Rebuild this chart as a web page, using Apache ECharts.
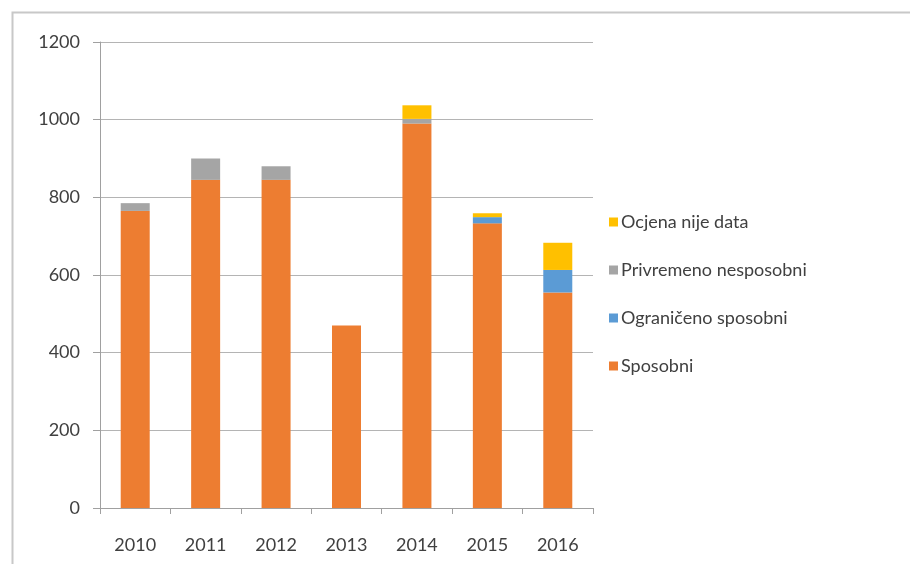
<!DOCTYPE html>
<html>
<head>
<meta charset="utf-8">
<script src="https://cdn.jsdelivr.net/npm/echarts@6/dist/echarts.min.js"></script>
<style>
html,body{margin:0;padding:0;background:#fff;}
#chart{width:910px;height:564px;}
</style>
</head>
<body>
<div id="chart"></div>
<script>
const categories = ['2010','2011','2012','2013','2014','2015','2016'];
const sposobni = [765, 845, 845, 470, 990, 733, 555];
const ogranicenoSposobni = [0, 0, 0, 0, 0, 16, 58];
const privremenoNesposobni = [20, 55, 35, 0, 12, 0, 0];
const ocjenaNijeData = [0, 0, 0, 0, 35, 10, 70];
const yTicks = [0, 200, 400, 600, 800, 1000, 1200];

const chart = echarts.init(document.getElementById('chart'));
const font = 'Lato, "Open Sans", sans-serif';
function s(name, data, color) {
  return { name: name, type: 'bar', stack: 'a', data: data, barWidth: 29,
    itemStyle: { color: color }, emphasis: { disabled: true } };
}
chart.setOption({
  animation: false,
  graphic: [{ type: 'rect', shape: { x: 12.5, y: 12.5, width: 920, height: 600 },
    style: { fill: 'none', stroke: '#c8c8c8', lineWidth: 2 }, silent: true }],
  grid: { left: 100, right: 317, top: 42, bottom: 56 },
  legend: {
    orient: 'vertical', left: 604, top: 208, itemWidth: 9, itemHeight: 9, itemGap: 30,
    icon: 'rect',
    data: ['Ocjena nije data', 'Privremeno nesposobni', 'Ograničeno sposobni', 'Sposobni'],
    textStyle: { fontFamily: font, fontSize: 18, color: '#404040', padding: [0, 0, 0, -2] }
  },
  xAxis: {
    type: 'category', data: categories,
    axisLine: { lineStyle: { color: '#a0a0a0' } },
    axisTick: { show: true, length: 6, lineStyle: { color: '#a0a0a0' } },
    axisLabel: { fontFamily: font, fontSize: 18, color: '#404040', margin: 28 }
  },
  yAxis: {
    type: 'value', min: 0, max: 1200, interval: 200,
    axisLine: { show: true, lineStyle: { color: '#a0a0a0' } },
    axisTick: { show: true, inside: false, length: 7, lineStyle: { color: '#a0a0a0' } },
    splitLine: { lineStyle: { color: '#b4b4b4' } },
    axisLabel: { fontFamily: font, fontSize: 18, color: '#404040', margin: 20,
      formatter: v => yTicks.includes(v) ? String(v) : '' }
  },
  series: [
    s('Sposobni', sposobni, '#ED7D31'),
    s('Ograničeno sposobni', ogranicenoSposobni, '#5B9BD5'),
    s('Privremeno nesposobni', privremenoNesposobni, '#A5A5A5'),
    s('Ocjena nije data', ocjenaNijeData, '#FFC000')
  ]
});
</script>
</body>
</html>
